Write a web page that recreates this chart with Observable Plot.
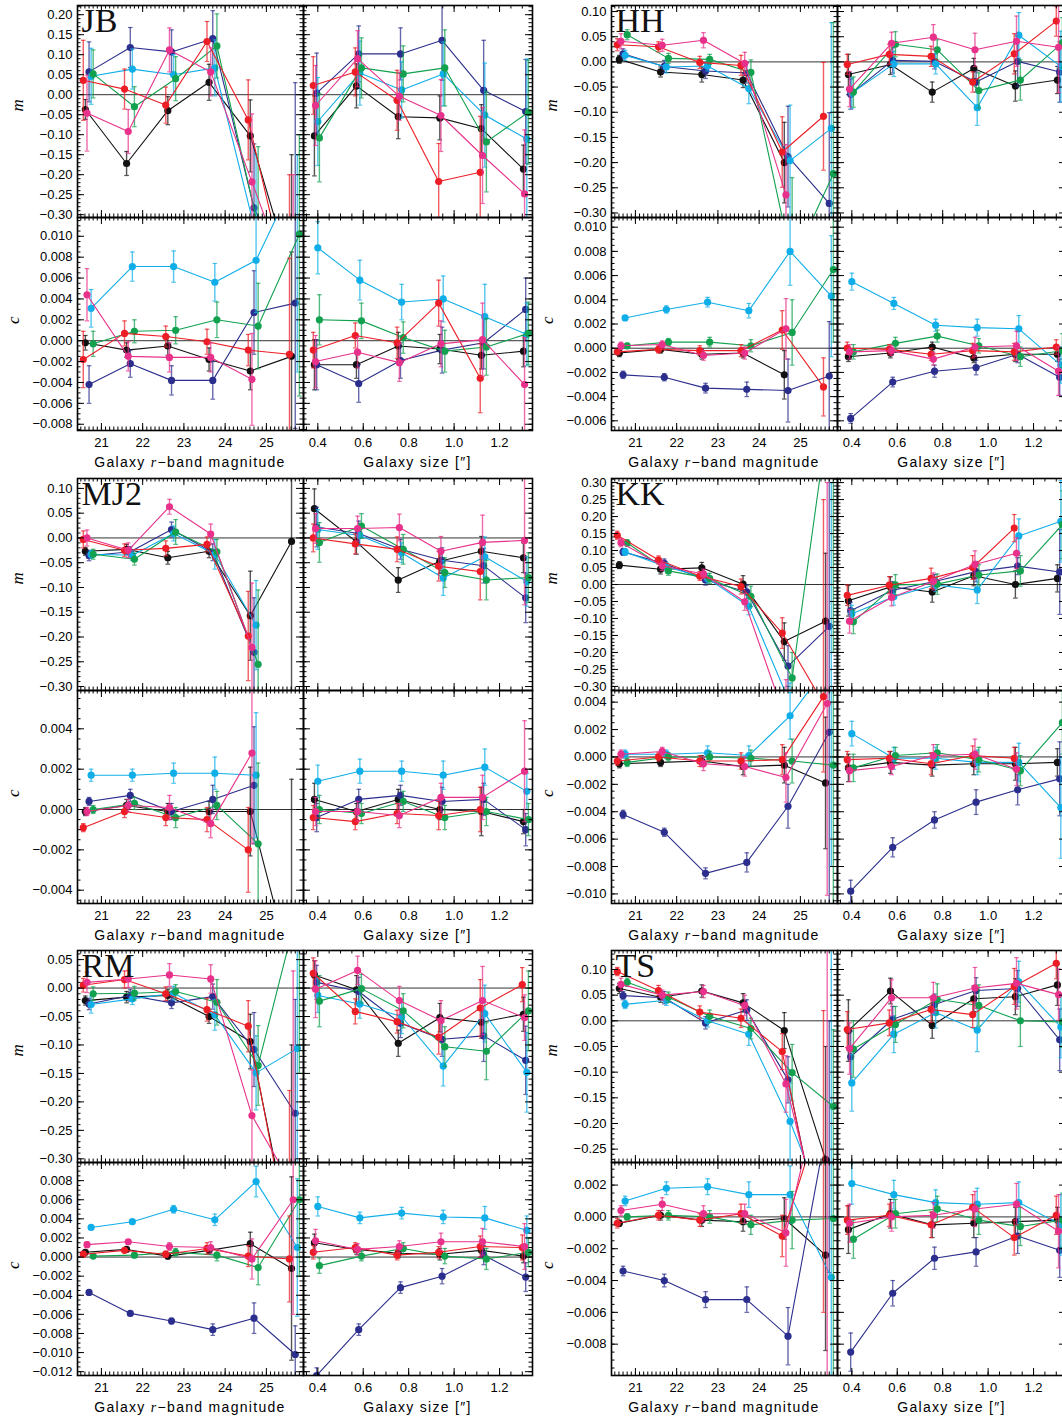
<!DOCTYPE html>
<html><head><meta charset="utf-8">
<script src="https://cdn.jsdelivr.net/npm/d3@7"></script>
<script src="https://cdn.jsdelivr.net/npm/@observablehq/plot@0.6"></script>
<style>
body{margin:0;background:#fff;}
#root{position:relative;width:1062px;height:1419px;overflow:hidden;font-family:"Liberation Sans",Arial,sans-serif;background:#fff;}
.sub{position:absolute;}
.xt{position:absolute;font-size:14px;letter-spacing:1.3px;transform:translateX(-50%);white-space:nowrap;color:#000;line-height:16px;}
.xt i{font-family:"Liberation Serif",serif;}
</style></head><body><div id="root"></div><script>
// ---------------- data ----------------
const seriesNames = ["black","blue","cyan","green","red","magenta"];
const seriesColors = ["#111111","#2b2e8c","#10aee8","#11a14f","#ec1d25","#e8318a"];
const magBins = [20.56, 21.56, 22.56, 23.56, 24.56, 25.56];
const magOffsets = [0.05, 0.14, 0.19, 0.24, 0.0, 0.09];
const sizeBins = [0.38, 0.565, 0.749, 0.932, 1.115, 1.30];
const sizeOffsets = [0.005, 0.015, 0.02, 0.027, 0.0, 0.01];
const magTickLabels = [21, 22, 23, 24, 25];
const sizeTickLabels = [0.4, 0.6, 0.8, 1.0, 1.2];
const panelNames = ["JB","HH","MJ2","KK","RM","TS"];
const mDomains = [[-0.307,0.223],[-0.309,0.112],[-0.308,0.12],[-0.312,0.312],[-0.3065,0.066],[-0.276,0.137]];
const cDomains = [[-0.0086,0.0118],[-0.0068,0.0108],[-0.00466,0.0059],[-0.0107,0.00485],[-0.0124,0.0099],[-0.00997,0.00342]];

// rows: black, blue, cyan, green, red, magenta
const JB_mMag = [[-0.037,-0.172,-0.04,0.031,-0.103,-0.45],[0.057,0.118,0.107,0.14,-0.283,-0.5],[0.046,0.064,0.05,0.067,-0.35,-0.4],[0.052,-0.03,0.04,0.122,-0.33,-0.4],[0.036,0.014,-0.026,0.133,-0.063,-0.5],[-0.046,-0.092,0.112,0.057,-0.218,-0.5]];
const JB_mMagErr = [[0.025,0.03,0.035,0.045,0.09,0.3],[0.075,0.05,0.055,0.07,0.16,0.53],[0.07,0.05,0.05,0.07,0.2,0.25],[0.06,0.05,0.055,0.08,0.2,0.3],[0.1,0.05,0.045,0.05,0.1,0.3],[0.095,0.055,0.055,0.06,0.17,0.3]];
const JB_mSize = [[-0.103,0.022,-0.055,-0.058,-0.085,-0.186],[0.004,0.102,0.102,0.136,0.011,-0.042],[-0.067,0.054,0.012,0.052,-0.051,-0.111],[-0.108,0.067,0.052,0.067,-0.118,-0.044],[0.023,0.057,-0.014,-0.217,-0.194,null],[-0.027,0.09,-0.004,-0.052,-0.152,-0.248]];
const JB_mSizeErr = [[0.1,0.055,0.055,0.055,0.06,0.06],[0.1,0.07,0.065,0.1,0.125,0.13],[0.11,0.08,0.07,0.08,0.13,0.2],[0.11,0.075,0.07,0.095,0.125,0.13],[0.072,0.06,0.075,0.095,0.14,null],[0.1,0.07,0.06,0.09,0.12,0.16]];
const JB_cMag = [[-0.0002,-0.0009,-0.0005,-0.0018,-0.0029,-0.0015],[-0.0042,-0.0022,-0.0038,-0.0038,0.0027,0.0036],[0.0031,0.0071,0.0071,0.0056,0.0077,0.016],[-0.0003,0.0009,0.001,0.002,0.0014,0.0102],[-0.0018,0.0007,0.0004,-0.0001,-0.0009,-0.0013],[0.0044,-0.0015,-0.0016,-0.0016,-0.0037,null]];
const JB_cMagErr = [[0.0007,0.0007,0.0009,0.0011,0.0018,0.01],[0.0018,0.0013,0.0014,0.0018,0.004,0.012],[0.0018,0.0014,0.0015,0.0018,0.005,0.019],[0.0012,0.0011,0.0013,0.0017,0.0041,0.0155],[0.0027,0.0012,0.001,0.0012,0.0015,0.0092],[0.0025,0.0014,0.0014,0.0014,0.0044,null]];
const JB_cSize = [[-0.0023,-0.0023,-0.0005,-0.0008,-0.0014,-0.001],[-0.0023,-0.0041,-0.0019,-0.0009,-0.0002,0.003],[0.0089,0.0058,0.0037,0.004,0.0023,0.0006],[0.002,0.0019,0.0003,-0.001,-0.0006,0.0007],[-0.0009,0.0005,-0.0002,0.0036,-0.0036,null],[-0.002,-0.0011,-0.0021,-0.0003,0.0001,-0.0042]];
const JB_cSizeErr = [[0.0024,0.0013,0.0013,0.0014,0.0013,0.0015],[0.0024,0.0018,0.0017,0.0022,0.0025,0.003],[0.0025,0.0019,0.0017,0.0022,0.0031,0.003],[0.0024,0.0017,0.0015,0.002,0.0027,0.003],[0.0017,0.0012,0.0015,0.0022,0.0033,null],[0.0025,0.0015,0.0018,0.0022,0.0035,0.0045]];

const HH_mMag = [[0.005,-0.02,-0.025,-0.036,-0.2,null],[0.016,-0.009,-0.018,-0.022,-0.188,-0.281],[0.013,-0.01,-0.008,-0.053,-0.196,-0.132],[0.054,0.007,0.005,-0.021,-0.4,-0.222],[0.034,0.03,-0.001,-0.007,-0.179,-0.108],[0.041,0.033,0.043,-0.003,-0.264,null]];
const HH_mMagErr = [[0.008,0.01,0.015,0.015,0.08,null],[0.01,0.012,0.015,0.02,0.1,0.18],[0.01,0.012,0.01,0.03,0.11,0.21],[0.01,0.01,0.01,0.025,0.17,0.3],[0.012,0.01,0.012,0.02,0.07,0.107],[0.015,0.012,0.015,0.022,0.1,null]];
const HH_mSize = [[-0.025,-0.005,-0.06,-0.013,-0.048,-0.036],[-0.064,0.003,0.001,-0.04,0.001,-0.02],[-0.062,-0.004,-0.004,-0.091,0.053,-0.009],[-0.06,0.035,0.024,-0.057,-0.036,0.038],[-0.005,0.015,0.011,-0.04,0.016,0.081],[-0.054,0.037,0.049,0.024,0.041,0.029]];
const HH_mSizeErr = [[0.04,0.02,0.02,0.02,0.03,0.027],[0.03,0.025,0.015,0.02,0.05,0.06],[0.03,0.025,0.02,0.035,0.045,0.07],[0.03,0.025,0.02,0.035,0.04,0.05],[0.02,0.02,0.02,0.02,0.04,0.03],[0.035,0.022,0.025,0.033,0.05,0.09]];
const HH_cMag = [[-0.0004,-0.0001,-0.0005,-0.0004,-0.0022,null],[-0.0022,-0.0024,-0.0033,-0.0034,-0.0035,-0.0023],[0.0025,0.0032,0.0038,0.0031,0.008,0.0043],[0.0002,0.0005,0.0005,0.0002,0.0013,0.0065],[-0.0003,-0.0001,-0.0002,-0.0002,0.0015,-0.0032],[0.0002,0.0003,-0.0006,-0.0004,0.0016,null]];
const HH_cMagErr = [[0.0003,0.0003,0.0004,0.0004,0.002,null],[0.0003,0.0003,0.0004,0.0006,0.0026,0.0045],[0.0002,0.0003,0.0004,0.0006,0.0028,0.005],[0.0002,0.0003,0.0004,0.0005,0.0027,0.006],[0.0002,0.0003,0.0004,0.0005,0.0016,0.0024],[0.0003,0.0003,0.0004,0.0005,0.0025,null]];
const HH_cSize = [[-0.0007,-0.0004,0.0001,-0.0008,-0.0005,-0.0005],[-0.0058,-0.0028,-0.0019,-0.0016,-0.0005,-0.0024],[0.0055,0.0037,0.0019,0.0017,0.0016,-0.0014],[-0.0003,0.0004,0.001,0.0002,-0.0007,-0.0002],[0.0,-0.0001,-0.0005,-0.0002,-0.0003,0.0001],[-0.0003,-0.0002,-0.0009,0.0001,0.0002,-0.0019]];
const HH_cSizeErr = [[0.0004,0.0004,0.0004,0.0004,0.0006,0.0006],[0.0004,0.0004,0.0005,0.0006,0.0007,0.0015],[0.0007,0.0005,0.0005,0.0007,0.0011,0.0015],[0.0006,0.0005,0.0005,0.0006,0.0008,0.0014],[0.0005,0.0004,0.0005,0.0006,0.0007,0.0006],[0.0006,0.0004,0.0005,0.0008,0.0012,0.002]];

const MJ2_mMag = [[-0.027,-0.023,-0.04,-0.027,-0.157,-0.007],[-0.036,-0.028,0.017,-0.029,-0.231,null],[-0.033,-0.035,0.009,-0.033,-0.176,null],[-0.033,-0.043,0.012,-0.028,-0.255,null],[-0.003,-0.025,-0.021,-0.013,-0.198,null],[0.0,-0.025,0.063,0.008,-0.221,null]];
const MJ2_mMagErr = [[0.008,0.01,0.013,0.013,0.09,0.35],[0.01,0.01,0.015,0.017,0.11,null],[0.008,0.01,0.015,0.03,0.09,null],[0.01,0.012,0.025,0.025,0.15,null],[0.017,0.013,0.015,0.015,0.09,null],[0.016,0.015,0.015,0.02,0.13,null]];
const MJ2_mSize = [[0.059,-0.008,-0.085,-0.047,-0.027,-0.04],[0.022,0.009,-0.023,-0.045,-0.056,-0.121],[0.017,0.005,-0.03,-0.081,-0.038,-0.088],[-0.009,0.024,-0.023,-0.07,-0.085,-0.08],[0.0,-0.012,-0.023,-0.057,-0.068,null],[0.019,0.019,0.021,-0.027,-0.009,-0.005]];
const MJ2_mSizeErr = [[0.04,0.025,0.025,0.025,0.03,0.03],[0.04,0.025,0.02,0.025,0.035,0.05],[0.04,0.02,0.02,0.035,0.04,0.05],[0.04,0.025,0.03,0.03,0.04,0.05],[0.028,0.02,0.025,0.03,0.057,null],[0.03,0.025,0.027,0.03,0.055,0.13]];
const MJ2_cMag = [[-0.0001,0.0002,-0.0001,-0.0001,-0.0001,-0.008],[0.0004,0.0007,-0.0001,0.0005,0.0012,null],[0.0017,0.0017,0.0018,0.0018,0.0017,null],[0.0,0.0003,-0.0004,0.0002,-0.0017,null],[-0.0009,-0.0001,-0.0004,-0.0005,-0.002,null],[-0.0001,0.0002,0.0001,-0.0007,0.0028,null]];
const MJ2_cMagErr = [[0.0002,0.0003,0.0004,0.0005,0.0022,0.0095],[0.0002,0.0003,0.0004,0.0007,0.0029,null],[0.0003,0.0003,0.0005,0.0008,0.0031,null],[0.0002,0.0003,0.0005,0.0007,0.004,null],[0.0002,0.0003,0.0004,0.0006,0.0021,null],[0.0002,0.0003,0.0006,0.0007,0.0045,null]];
const MJ2_cSize = [[0.0005,-0.0001,0.0005,0.0,-0.0001,-0.0006],[-0.0004,0.0005,0.0007,0.0004,0.0005,-0.001],[0.0014,0.0019,0.0019,0.0017,0.0021,0.0009],[0.0,-0.0002,0.0004,-0.0004,-0.0001,-0.0005],[-0.0004,-0.0006,-0.0002,-0.0003,0.0,null],[-0.0001,-0.0001,-0.0003,0.0006,0.0006,0.0019]];
const MJ2_cSizeErr = [[0.0008,0.0004,0.0005,0.0005,0.0012,0.0006],[0.0007,0.0005,0.0005,0.0007,0.0008,0.0008],[0.0008,0.0006,0.0005,0.0007,0.0009,0.0009],[0.0007,0.0005,0.0005,0.0006,0.0007,0.0008],[0.0006,0.0004,0.0005,0.0007,0.0011,null],[0.0007,0.0005,0.0006,0.0007,0.0011,0.0025]];

const KK_mMag = [[0.057,0.045,0.049,0.001,-0.168,-0.108],[0.096,0.062,0.013,-0.022,-0.24,-0.123],[0.096,0.052,0.018,-0.064,-0.35,-0.5],[0.122,0.04,0.018,-0.035,-0.275,0.6],[0.145,0.072,0.025,-0.006,-0.143,-0.35],[0.123,0.055,0.031,-0.051,-0.4,-0.5]];
const KK_mMagErr = [[0.01,0.014,0.016,0.025,0.055,0.2],[0.01,0.013,0.015,0.02,0.06,0.5],[0.01,0.012,0.014,0.025,0.06,0.8],[0.01,0.013,0.015,0.03,0.075,0.8],[0.012,0.012,0.013,0.022,0.045,0.6],[0.012,0.014,0.014,0.025,0.12,0.8]];
const KK_mSize = [[-0.048,-0.007,-0.022,0.026,0.0,0.018],[-0.077,-0.017,0.009,0.038,0.054,0.037],[-0.086,-0.036,-0.001,-0.016,0.143,0.186],[-0.11,-0.001,0.001,0.028,0.04,0.176],[-0.032,-0.002,0.018,0.05,0.166,null],[-0.108,-0.038,0.009,0.059,0.092,null]];
const KK_mSizeErr = [[0.045,0.03,0.03,0.03,0.04,0.04],[0.025,0.025,0.02,0.03,0.025,0.125],[0.025,0.025,0.02,0.04,0.05,0.12],[0.035,0.03,0.03,0.03,0.045,0.1],[0.03,0.025,0.03,0.035,0.04,null],[0.035,0.025,0.025,0.04,0.045,null]];
const KK_cMag = [[-0.0005,-0.0004,-0.0003,-0.0007,-0.0006,-0.0019],[-0.0042,-0.0055,-0.0085,-0.0077,-0.0036,0.0018],[0.0002,0.0002,0.0003,0.0001,0.003,0.007],[-0.0004,0.0,0.0,-0.0001,-0.0003,-0.0006],[-0.0003,0.0,-0.0003,-0.0003,-0.0002,0.0044],[0.0002,0.0004,-0.0005,-0.0007,-0.0015,0.0039]];
const KK_cMagErr = [[0.0003,0.0003,0.0004,0.0006,0.0013,0.0048],[0.0003,0.0003,0.0004,0.0007,0.0016,0.013],[0.0003,0.0003,0.0005,0.0007,0.0017,0.015],[0.0003,0.0003,0.0004,0.0006,0.0016,0.012],[0.0003,0.0003,0.0004,0.0006,0.0011,0.0055],[0.0003,0.0003,0.0005,0.0007,0.0018,0.014]];
const KK_cSize = [[-0.0008,-0.0004,-0.0006,-0.0005,-0.0005,-0.0004],[-0.0098,-0.0066,-0.0046,-0.0033,-0.0024,-0.0016],[0.0017,-0.0001,-0.0001,-0.0004,-0.0004,-0.0037],[-0.0008,0.0001,0.0003,-0.0002,-0.001,0.0025],[-0.0002,-0.0001,-0.0005,0.0001,-0.0001,null],[-0.001,-0.0007,0.0001,0.0002,-0.0009,null]];
const KK_cSizeErr = [[0.001,0.0008,0.0008,0.0008,0.0012,0.001],[0.0008,0.0007,0.0006,0.0009,0.0011,0.0027],[0.0009,0.0008,0.0008,0.0009,0.0014,0.0037],[0.001,0.0006,0.0006,0.0009,0.0011,0.0023],[0.0006,0.0005,0.0008,0.0007,0.0008,null],[0.0008,0.0006,0.0008,0.0011,0.0012,null]];

const RM_mMag = [[-0.022,-0.016,-0.013,-0.05,-0.094,-0.45],[-0.028,-0.013,-0.026,-0.015,-0.108,-0.22],[-0.029,-0.019,-0.009,-0.047,-0.149,-0.106],[-0.01,-0.009,-0.006,-0.025,-0.136,0.15],[0.005,0.015,-0.01,-0.038,-0.067,-0.45],[0.01,0.016,0.023,0.016,-0.224,-0.35]];
const RM_mMagErr = [[0.008,0.01,0.01,0.012,0.048,0.35],[0.01,0.01,0.01,0.022,0.065,0.2],[0.015,0.01,0.012,0.027,0.065,0.4],[0.012,0.012,0.012,0.04,0.07,0.3],[0.012,0.015,0.012,0.02,0.045,0.27],[0.018,0.015,0.02,0.025,0.08,0.38]];
const RM_mSize = [[0.023,-0.003,-0.097,-0.052,-0.06,-0.046],[0.01,-0.006,-0.062,-0.09,-0.084,-0.127],[-0.013,-0.028,-0.05,-0.137,-0.045,-0.148],[-0.023,-0.001,-0.04,-0.103,-0.111,-0.04],[0.026,-0.041,-0.059,-0.086,-0.035,0.006],[-0.002,0.031,-0.022,-0.057,-0.022,-0.052]];
const RM_mSizeErr = [[0.025,0.025,0.023,0.025,0.028,0.03],[0.03,0.025,0.025,0.03,0.045,0.06],[0.03,0.025,0.03,0.035,0.05,0.07],[0.045,0.025,0.03,0.035,0.05,0.07],[0.027,0.022,0.02,0.03,0.05,0.03],[0.05,0.025,0.025,0.035,0.06,0.04]];
const RM_cMag = [[0.0005,0.0008,0.0001,0.0007,0.0014,-0.0012],[-0.0037,-0.0059,-0.0067,-0.0076,-0.0064,-0.0102],[0.0031,0.0037,0.005,0.0039,0.0079,0.001],[0.0001,0.0002,0.0005,0.0002,-0.0011,0.006],[0.0003,0.0007,0.0003,0.0009,0.0001,-0.0002],[0.0013,0.0016,0.0011,0.001,-0.0002,0.006]];
const RM_cMagErr = [[0.0002,0.0002,0.0003,0.0004,0.0012,0.0096],[0.0002,0.0002,0.0003,0.0006,0.0016,0.003],[0.0002,0.0002,0.0004,0.0006,0.0016,0.0072],[0.0002,0.0002,0.0004,0.0006,0.0018,0.008],[0.0002,0.0002,0.0003,0.0006,0.0011,0.0045],[0.0003,0.0002,0.0004,0.0006,0.0021,0.012]];
const RM_cSize = [[0.0015,0.0008,0.0004,0.0003,0.0007,0.0001],[-0.0124,-0.0076,-0.0032,-0.002,0.0002,-0.0021],[0.0053,0.0041,0.0046,0.0042,0.0041,0.0028],[-0.0009,0.0001,0.0009,0.0001,-0.0002,0.0005],[0.0005,0.001,0.0002,0.0005,0.0011,0.001],[0.0017,0.0008,0.0011,0.0016,0.0016,0.0011]];
const RM_cSizeErr = [[0.0009,0.0005,0.0005,0.0006,0.0007,0.0007],[0.0008,0.0006,0.0006,0.0008,0.001,0.0015],[0.001,0.0006,0.0006,0.0007,0.0012,0.0015],[0.0008,0.0005,0.0006,0.0008,0.0011,0.0015],[0.0007,0.0005,0.0005,0.0006,0.0011,0.0013],[0.0012,0.0006,0.0006,0.0009,0.0014,0.0024]];

const TS_mMag = [[0.063,0.046,0.058,0.035,-0.019,-0.27],[0.049,0.045,-0.004,0.021,-0.115,-0.5],[0.032,0.04,0.0,-0.026,-0.196,-0.4],[0.075,0.046,0.009,-0.015,-0.101,-0.167],[0.096,0.059,0.017,0.005,-0.06,-0.45],[0.071,0.05,0.057,0.03,-0.123,-0.45]];
const TS_mMagErr = [[0.01,0.01,0.012,0.018,0.035,0.22],[0.008,0.012,0.012,0.02,0.045,0.5],[0.008,0.01,0.012,0.022,0.075,0.8],[0.008,0.01,0.012,0.02,0.055,0.15],[0.008,0.01,0.012,0.018,0.035,0.47],[0.012,0.01,0.012,0.02,0.055,0.8]];
const TS_mSize = [[-0.019,0.058,-0.009,0.043,0.047,0.07],[-0.07,0.003,0.032,0.059,0.063,-0.037],[-0.121,-0.026,0.016,-0.018,0.076,-0.012],[-0.055,-0.007,0.042,0.03,0.0,-0.002],[-0.017,-0.004,0.022,0.012,0.067,0.112],[-0.054,0.045,0.045,0.064,0.073,0.051]];
const TS_mSizeErr = [[0.06,0.025,0.025,0.025,0.035,0.04],[0.05,0.025,0.02,0.025,0.035,0.06],[0.055,0.036,0.03,0.042,0.04,0.06],[0.055,0.035,0.03,0.04,0.05,0.05],[0.035,0.025,0.025,0.025,0.035,0.03],[0.05,0.035,0.03,0.04,0.05,0.05]];
const TS_cMag = [[-0.0004,0.0001,-0.0002,-0.0003,-0.0001,-0.0024],[-0.0034,-0.004,-0.0052,-0.0052,-0.0075,0.0065],[0.001,0.0018,0.0019,0.0014,0.0014,-0.0038],[0.0,0.0001,0.0,-0.0005,-0.0002,-0.0001],[-0.0004,0.0001,-0.0002,0.0002,-0.0012,0.007],[0.0004,0.0008,0.0002,0.0002,-0.001,0.01]];
const TS_cMagErr = [[0.0002,0.0003,0.0004,0.0006,0.0013,0.006],[0.0003,0.0004,0.0005,0.0008,0.0018,0.01],[0.0003,0.0004,0.0005,0.0008,0.0018,0.02],[0.0002,0.0003,0.0004,0.0006,0.0018,0.01],[0.0003,0.0003,0.0004,0.0006,0.0013,0.013],[0.0003,0.0004,0.0005,0.0006,0.0021,0.02]];
const TS_cSize = [[-0.0008,0.0002,-0.0005,-0.0004,-0.0003,-0.0002],[-0.0085,-0.0048,-0.0026,-0.0022,-0.0012,-0.0021],[0.0021,0.0014,0.0009,0.0008,0.0009,-0.0005],[-0.0014,0.0002,0.0005,-0.0002,-0.0006,-0.0002],[-0.0002,0.0001,-0.0005,0.0006,-0.0013,0.0001],[-0.0004,0.0,0.0001,0.0005,0.0008,-0.0009]];
const TS_cSizeErr = [[0.0015,0.0009,0.0008,0.0009,0.0009,0.0008],[0.0012,0.0008,0.0007,0.0009,0.0011,0.0017],[0.0013,0.0009,0.0008,0.001,0.0013,0.0019],[0.0012,0.0009,0.0008,0.0009,0.0012,0.0017],[0.0009,0.0007,0.0008,0.0008,0.0011,0.0012],[0.0012,0.0009,0.0008,0.0011,0.0013,0.0023]];

const panelData = [
  [JB_mMag, JB_mMagErr, JB_mSize, JB_mSizeErr, JB_cMag, JB_cMagErr, JB_cSize, JB_cSizeErr],
  [HH_mMag, HH_mMagErr, HH_mSize, HH_mSizeErr, HH_cMag, HH_cMagErr, HH_cSize, HH_cSizeErr],
  [MJ2_mMag, MJ2_mMagErr, MJ2_mSize, MJ2_mSizeErr, MJ2_cMag, MJ2_cMagErr, MJ2_cSize, MJ2_cSizeErr],
  [KK_mMag, KK_mMagErr, KK_mSize, KK_mSizeErr, KK_cMag, KK_cMagErr, KK_cSize, KK_cSizeErr],
  [RM_mMag, RM_mMagErr, RM_mSize, RM_mSizeErr, RM_cMag, RM_cMagErr, RM_cSize, RM_cSizeErr],
  [TS_mMag, TS_mMagErr, TS_mSize, TS_mSizeErr, TS_cMag, TS_cMagErr, TS_cSize, TS_cSizeErr]
];

// ---------------- layout ----------------
const root = document.getElementById("root");
const colX = [77, 611];
const rowY = [5, 478, 950];
const magW = 226, sizeW = 229, mH = 212, cH = 213;
const magDomain = [20.42, 25.9];
const sizeDomain = [0.337, 1.345];

function ticksIn(dom, step) {
  const a = Math.ceil(dom[0] / step - 1e-9), b = Math.floor(dom[1] / step + 1e-9);
  return d3.range(a, b + 1).map(k => +(k * step).toFixed(6));
}
function fmtSigned(v, digits) {
  const s = Math.abs(v).toFixed(digits);
  return (v < 0 && +s !== 0 ? "\u2212" : "") + s;
}
const capSymbol = {draw(ctx) { ctx.moveTo(-2.3, 0); ctx.lineTo(2.3, 0); }};

function subplot(o) {
  const ml = 80, mr = 10, mt = 10, mb = 50;
  const {w, h, xDom, yDom} = o;
  const marks = [];
  marks.push(Plot.ruleY([0], {stroke: "#333", strokeWidth: 1}));
  for (let i = 0; i < seriesNames.length; i++) {
    const col = seriesColors[i];
    const rows = [];
    o.vals[i].forEach((v, j) => {
      if (v == null) return;
      rows.push({x: o.bins[j] + o.offsets[i], y: v, e: o.errs[i][j]});
    });
    const withErr = rows.filter(d => d.e != null);
    const caps = withErr.flatMap(d => [{x: d.x, y: d.y - d.e}, {x: d.x, y: d.y + d.e}]);
    marks.push(Plot.ruleX(withErr, {x: "x", y1: d => d.y - d.e, y2: d => d.y + d.e, stroke: col, strokeOpacity: 0.72, strokeWidth: 1.4, clip: true}));
    marks.push(Plot.dot(caps, {x: "x", y: "y", symbol: capSymbol, r: 2, stroke: col, strokeOpacity: 0.72, strokeWidth: 1.2, fill: "none", clip: true}));
    marks.push(Plot.line(rows, {x: "x", y: "y", stroke: col, strokeWidth: 1.1, clip: true}));
    marks.push(Plot.dot(rows, {x: "x", y: "y", r: 3.6, fill: col, stroke: "none", clip: true}));
  }
  // inward ticks on all four sides
  const xMaj = ticksIn(xDom, o.xMajor), xMin = ticksIn(xDom, o.xMinor);
  const yMaj = ticksIn(yDom, o.yMajor), yMin = ticksIn(yDom, o.yMinor);
  const L = 7, l = 3.5;
  marks.push(Plot.tickX(xMaj, {x: d => d, insetTop: h - L, stroke: "#000"}));
  marks.push(Plot.tickX(xMaj, {x: d => d, insetBottom: h - L, stroke: "#000"}));
  marks.push(Plot.tickX(xMin, {x: d => d, insetTop: h - l, stroke: "#000"}));
  marks.push(Plot.tickX(xMin, {x: d => d, insetBottom: h - l, stroke: "#000"}));
  marks.push(Plot.tickY(yMaj, {y: d => d, insetRight: w - L, stroke: "#000"}));
  marks.push(Plot.tickY(yMaj, {y: d => d, insetLeft: w - L, stroke: "#000"}));
  marks.push(Plot.tickY(yMin, {y: d => d, insetRight: w - l, stroke: "#000"}));
  marks.push(Plot.tickY(yMin, {y: d => d, insetLeft: w - l, stroke: "#000"}));
  marks.push(Plot.frame({stroke: "#000", strokeWidth: 1.6}));
  if (o.showY) {
    marks.push(Plot.text(yMaj, {y: d => d, frameAnchor: "left", textAnchor: "end", dx: -5, text: d => fmtSigned(d, o.yDigits), fontSize: 13, fill: "#000"}));
    marks.push(Plot.text([o.yTitle], {frameAnchor: "left", dx: o.yTitle === "m" ? -60 : -64, rotate: -90, fontSize: 17, fontStyle: "italic", fontFamily: "Liberation Serif, serif", fill: "#000"}));
  }
  if (o.showX) {
    marks.push(Plot.text(o.xLabels, {x: d => d, frameAnchor: "bottom", dy: 16, text: d => d.toFixed(o.xDigits), fontSize: 13, fill: "#000"}));
  }
  if (o.panelLabel) {
    marks.push(Plot.text([o.panelLabel], {frameAnchor: "top-left", dx: 4, dy: 2, lineAnchor: "top", textAnchor: "start", fontSize: 34, fontFamily: "Liberation Serif, serif", fill: "#111"}));
  }
  const svg = Plot.plot({
    width: w + ml + mr, height: h + mt + mb,
    marginLeft: ml, marginRight: mr, marginTop: mt, marginBottom: mb,
    x: {domain: xDom, axis: null},
    y: {domain: yDom, axis: null},
    style: {background: "transparent", overflow: "visible", fontFamily: "Liberation Sans, Arial, sans-serif"},
    marks
  });
  svg.classList.add("sub");
  svg.style.position = "absolute";
  svg.style.left = (o.left - ml) + "px";
  svg.style.top = (o.top - mt) + "px";
  root.appendChild(svg);
}

function xTitle(html, cx, cy) {
  const d = document.createElement("div");
  d.className = "xt";
  d.innerHTML = html;
  d.style.left = cx + "px";
  d.style.top = (cy - 8) + "px";
  root.appendChild(d);
}

panelNames.forEach((name, p) => {
  const X0 = colX[p % 2], T = rowY[Math.floor(p / 2)];
  const [mMag, mMagE, mSize, mSizeE, cMag, cMagE, cSize, cSizeE] = panelData[p];
  const mDom = mDomains[p], cDom = cDomains[p];
  const magCfg = {w: magW, xDom: magDomain, bins: magBins, offsets: magOffsets, xMajor: 1, xMinor: 0.1, xLabels: magTickLabels, xDigits: 0};
  const sizeCfg = {w: sizeW, xDom: sizeDomain, bins: sizeBins, offsets: sizeOffsets, xMajor: 0.2, xMinor: 0.05, xLabels: sizeTickLabels, xDigits: 1};
  const mCfg = {h: mH, yDom: mDom, yMajor: 0.05, yMinor: 0.01, yDigits: 2, yTitle: "m"};
  const cCfg = {h: cH, yDom: cDom, yMajor: 0.002, yMinor: 0.0005, yDigits: 3, yTitle: "c"};
  subplot({...magCfg, ...mCfg, left: X0, top: T, vals: mMag, errs: mMagE, showY: true, showX: false, panelLabel: name});
  subplot({...sizeCfg, ...mCfg, left: X0 + magW, top: T, vals: mSize, errs: mSizeE, showY: false, showX: false});
  subplot({...magCfg, ...cCfg, left: X0, top: T + mH, vals: cMag, errs: cMagE, showY: true, showX: true});
  subplot({...sizeCfg, ...cCfg, left: X0 + magW, top: T + mH, vals: cSize, errs: cSizeE, showY: false, showX: true});
  const bottom = T + mH + cH;
  xTitle("Galaxy <i>r</i>\u2212band magnitude", X0 + magW / 2, bottom + 32);
  xTitle("Galaxy size [\u2033]", X0 + magW + sizeW / 2, bottom + 32);
});
</script></body></html>
